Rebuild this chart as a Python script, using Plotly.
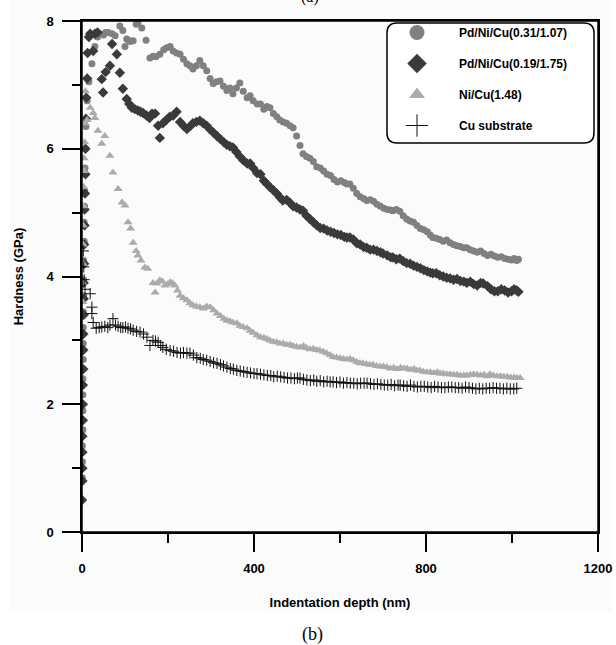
import plotly.graph_objects as go

# ---- data: (indentation depth nm, hardness GPa) ----
pd_031_107 = [(1,0.85),(1,1.1),(1,1.35),(2,1.6),(2,1.9),(2,2.15),(2,2.4),(3,2.7),(3,2.95),(3,3.2),(3,3.45),
    (4,3.7),(4,3.95),(4,4.25),(5,4.55),(5,4.85),(6,5.1),(6,5.35),(7,5.7),(8,6.0),(9,6.35),(12,6.75),(16,7.05),
    (23,7.33),(30,7.6),(36,7.75),(42,7.8),(50,7.78),(55,7.82),(61,7.82),(70,7.8),(77,7.77),(88,7.92),(95,7.85),
    (100,7.6),(104,7.72),(108,7.7),(112,7.68),(119,7.69),(126,7.95),(130,7.97),(139,7.89),(149,7.7),(158,7.42),
    (165,7.45),(172,7.44),(181,7.48),(190,7.55),(197,7.58),(205,7.6),(212,7.53),(220,7.5),(228,7.48),(236,7.4),
    (244,7.33),(251,7.3),(258,7.25),(266,7.3),(274,7.38),(282,7.3),(290,7.22),(298,7.1),(305,7.02),(313,7.05),
    (321,7.06),(329,6.98),(337,6.91),(344,6.95),(351,6.86),(359,6.95),(367,7.03),(375,6.9),(384,6.8),(391,6.83),
    (398,6.75),(407,6.7),(415,6.7),(423,6.62),(430,6.66),(437,6.64),(445,6.55),(453,6.5),(460,6.45),(468,6.42),
    (476,6.4),(484,6.36),(491,6.33),(499,6.2),(507,6.05),(514,5.92),(522,5.88),(530,5.85),(538,5.8),(546,5.72),
    (554,5.7),(562,5.65),(570,5.6),(578,5.58),(586,5.52),(594,5.48),(602,5.5),(610,5.47),(616,5.45),(623,5.45),
    (631,5.38),(639,5.3),(647,5.25),(655,5.22),(662,5.19),(670,5.2),(678,5.18),(686,5.13),(694,5.1),(702,5.07),
    (710,5.05),(718,5.04),(723,5.03),(731,5.05),(739,5.02),(747,4.95),(755,4.9),(763,4.87),(771,4.85),(779,4.8),
    (787,4.75),(795,4.73),(803,4.7),(810,4.65),(816,4.61),(824,4.6),(832,4.58),(840,4.55),(848,4.57),(856,4.53),
    (864,4.5),(872,4.48),(880,4.47),(888,4.45),(895,4.45),(903,4.42),(911,4.4),(919,4.38),(927,4.4),(935,4.36),
    (943,4.33),(951,4.35),(959,4.32),(967,4.3),(975,4.31),(983,4.28),(991,4.27),(999,4.26),(1005,4.28),
    (1011,4.25),(1015,4.27)]

pd_019_175 = [(0,0.5),(1,0.8),(1,1.0),(1,1.25),(1,1.5),(2,1.75),(2,2.0),(2,2.3),(3,2.55),(3,2.85),(3,3.1),
    (4,3.4),(4,3.65),(4,3.9),(5,4.2),(5,4.5),(6,4.8),(6,5.05),(7,5.3),(8,5.6),(8,6.0),(9,6.47),(10,6.8),(12,7.1),
    (13,7.5),(16,7.75),(19,7.8),(26,7.53),(30,7.8),(36,7.82),(46,7.09),(49,6.88),(55,7.2),(65,7.3),(70,7.64),
    (81,7.48),(88,7.19),(95,6.94),(104,6.78),(110,6.7),(116,6.64),(123,6.62),(130,6.6),(136,6.58),(142,6.56),
    (150,6.52),(157,6.48),(163,6.55),(170,6.55),(177,6.36),(181,6.17),(188,6.4),(196,6.45),(204,6.5),(212,6.52),
    (220,6.58),(228,6.42),(236,6.36),(244,6.31),(251,6.35),(258,6.4),(266,6.42),(274,6.44),(282,6.4),(290,6.36),
    (298,6.3),(306,6.25),(314,6.2),(322,6.15),(330,6.1),(337,6.06),(344,6.04),(351,6.02),(359,5.95),(367,5.88),
    (375,5.82),(384,5.77),(391,5.77),(398,5.7),(407,5.62),(415,5.6),(423,5.5),(430,5.45),(437,5.4),(445,5.35),
    (453,5.3),(460,5.24),(467,5.19),(476,5.2),(484,5.15),(491,5.1),(499,5.08),(507,5.05),(514,5.03),(522,4.95),
    (530,4.9),(538,4.85),(546,4.8),(554,4.76),(562,4.75),(570,4.72),(578,4.7),(586,4.68),(594,4.66),(602,4.65),
    (610,4.62),(616,4.61),(623,4.61),(631,4.58),(639,4.52),(647,4.5),(655,4.46),(662,4.45),(670,4.42),(678,4.42),
    (686,4.4),(694,4.38),(700,4.36),(710,4.33),(718,4.3),(723,4.3),(731,4.27),(739,4.28),(747,4.24),(755,4.21),
    (763,4.2),(771,4.17),(779,4.15),(787,4.13),(795,4.1),(803,4.08),(810,4.06),(816,4.05),(824,4.05),(832,4.02),
    (840,4.0),(848,3.98),(856,3.97),(864,3.95),(872,3.96),(880,3.93),(888,3.92),(895,3.9),(903,3.92),(911,3.88),
    (919,3.86),(927,3.9),(933,3.89),(943,3.85),(951,3.8),(959,3.77),(967,3.77),(975,3.8),(983,3.78),(991,3.75),
    (999,3.77),(1005,3.8),(1011,3.78),(1015,3.76)]

ni_148 = [(2,3.6),(2,3.9),(3,4.2),(3,4.5),(3,4.8),(4,5.1),(4,5.4),(5,5.65),(5,5.85),(6,6.1),(7,6.4),(8,6.9),
    (12,6.45),(19,6.64),(26,6.56),(30,6.48),(37,6.28),(46,6.08),(53,6.2),(65,5.89),(72,5.63),(84,5.37),(93,5.16),
    (100,5.11),(107,4.85),(113,4.75),(119,4.53),(126,4.4),(130,4.33),(137,4.25),(146,4.14),(153,4.12),(165,3.9),
    (170,3.75),(174,3.89),(181,3.94),(187,3.92),(193,3.86),(199,3.88),(205,3.91),(210,3.9),(216,3.86),(222,3.78),
    (228,3.7),(236,3.66),(244,3.63),(251,3.58),(258,3.55),(266,3.53),(274,3.52),(282,3.5),(290,3.53),(298,3.52),
    (306,3.47),(314,3.42),(322,3.38),(330,3.34),(337,3.31),(344,3.3),(351,3.28),(360,3.27),(367,3.23),(375,3.21),
    (384,3.19),(391,3.15),(398,3.12),(407,3.08),(415,3.05),(423,3.04),(430,3.02),(437,3.0),(445,2.98),(453,2.97),
    (460,2.95),(468,2.95),(476,2.93),(484,2.93),(491,2.91),(499,2.9),(507,2.89),(515,2.91),(522,2.88),(530,2.86),
    (538,2.87),(546,2.85),(553,2.84),(561,2.82),(569,2.8),(577,2.77),(584,2.74),(592,2.73),(600,2.72),(608,2.71),
    (616,2.7),(623,2.71),(631,2.69),(639,2.66),(646,2.64),(653,2.64),(661,2.63),(669,2.62),(677,2.62),(685,2.6),
    (693,2.59),(701,2.59),(709,2.58),(717,2.56),(725,2.57),(733,2.55),(741,2.57),(749,2.56),(756,2.56),(764,2.54),
    (772,2.55),(779,2.53),(786,2.53),(794,2.51),(802,2.5),(810,2.5),(818,2.49),(826,2.5),(833,2.48),(840,2.48),
    (848,2.47),(856,2.47),(864,2.46),(872,2.46),(880,2.45),(888,2.45),(895,2.45),(903,2.46),(911,2.47),(919,2.46),
    (927,2.45),(935,2.46),(943,2.44),(949,2.47),(957,2.45),(965,2.44),(973,2.44),(981,2.43),(989,2.43),(997,2.42),
    (1005,2.42),(1012,2.41),(1019,2.41)]

cu_sub = [(3,4.4),(4,4.15),(5,3.95),(7,3.8),(19,3.73),(23,3.52),(23,3.42),(26,3.28),(33,3.19),(40,3.2),(46,3.21),
    (53,3.22),(60,3.2),(65,3.24),(72,3.34),(78,3.24),(84,3.22),(90,3.2),(95,3.2),(101,3.21),(107,3.19),(113,3.18),
    (119,3.16),(127,3.14),(135,3.13),(143,3.1),(151,3.05),(158,2.92),(165,3.0),(171,2.99),(177,2.97),(183,2.92),
    (188,2.89),(196,2.86),(205,2.84),(213,2.83),(221,2.81),(229,2.8),(236,2.81),(244,2.8),(251,2.8),(259,2.77),
    (267,2.73),(275,2.72),(282,2.7),(290,2.69),(298,2.67),(306,2.65),(314,2.64),(322,2.62),(329,2.6),(337,2.58),
    (345,2.56),(352,2.55),(360,2.53),(368,2.52),(376,2.51),(384,2.5),(392,2.49),(400,2.48),(407,2.48),(415,2.47),
    (423,2.46),(431,2.45),(439,2.45),(446,2.43),(454,2.44),(462,2.43),(470,2.42),(478,2.41),(486,2.41),(494,2.4),
    (501,2.41),(507,2.41),(515,2.39),(523,2.38),(531,2.37),(539,2.38),(546,2.36),(554,2.37),(562,2.35),(570,2.36),
    (577,2.35),(584,2.35),(592,2.34),(600,2.35),(608,2.33),(616,2.34),(624,2.33),(632,2.33),(640,2.32),(648,2.33),
    (656,2.33),(663,2.33),(671,2.32),(679,2.31),(687,2.32),(695,2.31),(703,2.3),(711,2.3),(719,2.31),(727,2.29),
    (735,2.3),(740,2.3),(748,2.29),(756,2.28),(764,2.3),(772,2.28),(780,2.27),(788,2.28),(796,2.28),(804,2.27),
    (812,2.26),(820,2.28),(828,2.27),(836,2.26),(844,2.26),(852,2.27),(860,2.27),(868,2.26),(876,2.26),(884,2.25),
    (892,2.27),(900,2.26),(908,2.25),(916,2.24),(924,2.25),(932,2.24),(940,2.25),(948,2.25),(956,2.26),(964,2.25),
    (972,2.25),(980,2.24),(988,2.25),(996,2.24),(1004,2.24),(1011,2.25)]

series_names = ["Pd/Ni/Cu(0.31/1.07)", "Pd/Ni/Cu(0.19/1.75)", "Ni/Cu(1.48)", "Cu substrate"]
x_ticks = [0, 400, 800, 1200]
x_minor = [200, 600, 1000]
y_ticks = [0, 2, 4, 6, 8]
y_minor = [1, 3, 5, 7]
x_range = [0, 1200]
y_range = [0, 8]

FONT = "Liberation Sans, Arial, sans-serif"

data_styles = [
    dict(symbol="circle", color="#808080", size=7, line=dict(width=0)),
    dict(symbol="diamond", color="#3a3a3a", size=8, line=dict(width=0)),
    dict(symbol="triangle-up", color="#ababab", size=8, line=dict(width=0)),
    dict(symbol="cross-thin-open", color="#111111", size=8, line=dict(width=1, color="#111111")),
]
legend_styles = [
    dict(symbol="circle", color="#808080", size=15, line=dict(width=0)),
    dict(symbol="diamond", color="#3a3a3a", size=15, line=dict(width=0)),
    dict(symbol="triangle-up", color="#ababab", size=14, line=dict(width=0)),
    dict(symbol="cross-thin-open", color="#111111", size=16, line=dict(width=1, color="#111111")),
]

fig = go.Figure()
for i, (data, name) in enumerate(zip([pd_031_107, pd_019_175, ni_148, cu_sub], series_names)):
    xs = [p[0] for p in data]
    ys = [p[1] for p in data]
    fig.add_trace(go.Scatter(x=xs, y=ys, mode="markers", name=name, legendgroup=f"g{i}",
                             showlegend=False, marker=data_styles[i]))
    # legend entry (no data) with the larger legend symbol
    fig.add_trace(go.Scatter(x=[None], y=[None], mode="markers", name=name, legendgroup=f"g{i}",
                             showlegend=True, marker=legend_styles[i]))

FW, FH = 616, 645
L, R, T, B = 82, 598, 21, 532
W, H = R - L, B - T
def px(xs):   # pixel x -> paper
    return (xs - L) / W
def py(ys):   # pixel y -> paper
    return (B - ys) / H

# rounded legend box
x0, x1, y0, y1 = px(387), px(594), py(143), py(23)
rx, ry = 10 / W, 10 / H
path = (f"M {x0+rx},{y1} L {x1-rx},{y1} Q {x1},{y1} {x1},{y1-ry} L {x1},{y0+ry} Q {x1},{y0} {x1-rx},{y0} "
        f"L {x0+rx},{y0} Q {x0},{y0} {x0},{y0+ry} L {x0},{y1-ry} Q {x0},{y1} {x0+rx},{y1} Z")

fig.update_layout(
    width=FW, height=FH,
    margin=dict(l=L, r=FW - R, t=T, b=FH - B),
    paper_bgcolor="white", plot_bgcolor="#fbfbfb",
    font=dict(family=FONT, color="black"),
    showlegend=True,
    legend=dict(x=px(375), y=py(18), xanchor="left", yanchor="top", bgcolor="rgba(0,0,0,0)",
                borderwidth=0, font=dict(family=FONT, size=12, color="black", weight="bold"),
                itemsizing="trace", tracegroupgap=12, itemwidth=74),
    shapes=[
        dict(type="rect", xref="paper", yref="paper", x0=px(10), x1=px(612), y0=py(612), y1=py(0),
             fillcolor="#fbfbfb", line=dict(width=0), layer="below"),
        dict(type="rect", xref="paper", yref="paper", x0=0, x1=1, y0=0, y1=1,
             line=dict(color="black", width=1.5), fillcolor="rgba(0,0,0,0)", layer="above"),
        dict(type="path", xref="paper", yref="paper", path=path, fillcolor="white",
             line=dict(color="black", width=1.5), layer="above"),
    ],
    annotations=[
        dict(text="(b)", x=px(312), y=py(634), xref="paper", yref="paper", showarrow=False,
             xanchor="center", yanchor="middle", font=dict(family="Liberation Serif, serif", size=18, color="black")),
        dict(text="(a)", x=px(310), y=py(-3), xref="paper", yref="paper", showarrow=False,
             xanchor="center", yanchor="middle", font=dict(family="Liberation Serif, serif", size=16, color="black")),
    ],
    # overlay axes that carry the short minor ticks
    xaxis2=dict(overlaying="x", anchor="y", side="bottom", range=x_range, tickmode="array", tickvals=x_minor,
                ticktext=["" for _ in x_minor], ticks="outside", ticklen=10, tickwidth=1.5, tickcolor="black",
                showgrid=False, zeroline=False, showline=False, fixedrange=True),
    yaxis2=dict(overlaying="y", anchor="x", side="left", range=y_range, tickmode="array", tickvals=y_minor,
                ticktext=["" for _ in y_minor], ticks="outside", ticklen=9, tickwidth=1.5, tickcolor="black",
                showgrid=False, zeroline=False, showline=False, fixedrange=True),
)
# invisible trace that binds the overlay axes
fig.add_trace(go.Scatter(x=[None], y=[None], xaxis="x2", yaxis="y2", showlegend=False, hoverinfo="skip"))

fig.update_layout(
    xaxis=dict(
        range=x_range, tickmode="array", tickvals=x_ticks, ticktext=[str(v) for v in x_ticks],
        ticks="outside", ticklen=18, tickwidth=1.5, tickcolor="black",
        showline=True, linecolor="black", linewidth=1.5, mirror=True, showgrid=False, zeroline=False,
        automargin=False, ticklabeloverflow="allow", ticklabelstandoff=6,
        tickfont=dict(family=FONT, size=13, color="black", weight="bold"),
        title=dict(text="Indentation depth (nm)", font=dict(family=FONT, size=13, color="black", weight="bold"), standoff=23),
    ),
    yaxis=dict(
        range=y_range, tickmode="array", tickvals=y_ticks, ticktext=[str(v) for v in y_ticks],
        ticks="outside", ticklen=18, tickwidth=1.5, tickcolor="black",
        showline=True, linecolor="black", linewidth=1.5, mirror=True, showgrid=False, zeroline=False,
        automargin=False, ticklabeloverflow="allow", ticklabelstandoff=6,
        tickfont=dict(family=FONT, size=13, color="black", weight="bold"),
        title=dict(text="Hardness (GPa)", font=dict(family=FONT, size=13, color="black", weight="bold"), standoff=20),
    ),
)

# remove the browser's default 8px body margin so the figure fills the window exactly
fig.write_html("out.html", config={"displayModeBar": False},
               post_script="document.body.style.margin='0';")
